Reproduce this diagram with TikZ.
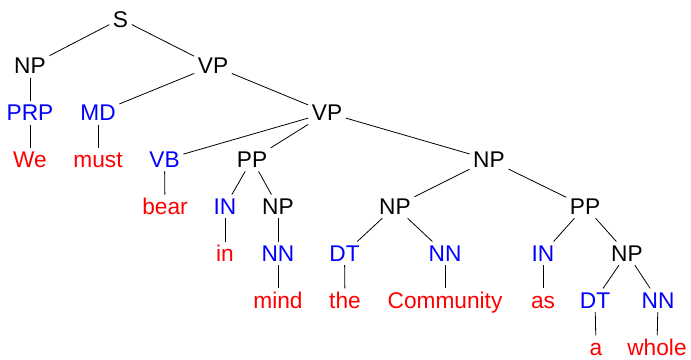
\documentclass[tikz,border=0pt]{standalone}
\usepackage{fontspec}
\setmainfont{Liberation Sans}
\definecolor{tagblue}{RGB}{0,0,255}
\definecolor{wordred}{RGB}{255,0,0}
\tikzset{
  lbl/.style={anchor=base, inner sep=3.5pt, text height=16.3pt, text depth=0pt,
    font=\fontsize{22.7}{27}\selectfont},
  phr/.style={lbl, text=black},
  tag/.style={lbl, text=tagblue},
  word/.style={lbl, text=wordred},
  br/.style={draw=black, line width=0.8pt}
}
\begin{document}
\begin{tikzpicture}[x=1pt,y=-1pt]
\useasboundingbox (0,0) rectangle (691,359);
\def\L#1{\fpeval{27+46.9*#1}}
\node[phr] (S) at (120.5,27) {S};
\node[phr] (np1) at (30,73.9) {NP};
\node[phr] (vp1) at (213,73.9) {VP};
\node[tag] (prp) at (30,120.8) {PRP};
\node[tag] (md) at (98,120.8) {MD};
\node[phr] (vp2) at (327,120.8) {VP};
\node[word] (we) at (30,167.7) {We};
\node[word] (must) at (98,167.7) {must};
\node[tag] (vb) at (164.5,167.7) {VB};
\node[phr] (pp1) at (252,167.7) {PP};
\node[phr] (np2) at (489,167.7) {NP};
\node[word] (bear) at (165,214.6) {bear};
\node[tag] (in1) at (225,214.6) {IN};
\node[phr] (np3) at (278,214.6) {NP};
\node[phr] (np4) at (395,214.6) {NP};
\node[phr] (pp2) at (585,214.6) {PP};
\node[word] (in) at (225,261.5) {in};
\node[tag] (nn1) at (278,261.5) {NN};
\node[tag] (dt1) at (344.5,261.5) {DT};
\node[tag] (nn2) at (445,261.5) {NN};
\node[tag] (in2) at (543,261.5) {IN};
\node[phr] (np5) at (627,261.5) {NP};
\node[word] (mind) at (278,308.4) {mind};
\node[word] (the) at (345,308.4) {the};
\node[word] (comm) at (445,308.4) {Community};
\node[word] (as) at (543,308.4) {as};
\node[tag] (dt2) at (595,308.4) {DT};
\node[tag] (nn3) at (658,308.4) {NN};
\node[word] (a) at (596,355.3) {a};
\node[word] (whole) at (657,355.3) {whole};
\draw[br] (S) -- (np1);
\draw[br] (S) -- (vp1);
\draw[br] (np1) -- (prp);
\draw[br] (prp) -- (we);
\draw[br] (vp1) -- (md);
\draw[br] (vp1) -- (vp2);
\draw[br] (md) -- (must);
\draw[br] (vp2) -- (vb);
\draw[br] (vp2) -- (pp1);
\draw[br] (vp2) -- (np2);
\draw[br] (vb) -- (bear);
\draw[br] (pp1) -- (in1);
\draw[br] (pp1) -- (np3);
\draw[br] (in1) -- (in);
\draw[br] (np3) -- (nn1);
\draw[br] (nn1) -- (mind);
\draw[br] (np2) -- (np4);
\draw[br] (np2) -- (pp2);
\draw[br] (np4) -- (dt1);
\draw[br] (np4) -- (nn2);
\draw[br] (dt1) -- (the);
\draw[br] (nn2) -- (comm);
\draw[br] (pp2) -- (in2);
\draw[br] (pp2) -- (np5);
\draw[br] (in2) -- (as);
\draw[br] (np5) -- (dt2);
\draw[br] (np5) -- (nn3);
\draw[br] (dt2) -- (a);
\draw[br] (nn3) -- (whole);
\end{tikzpicture}
\end{document}
